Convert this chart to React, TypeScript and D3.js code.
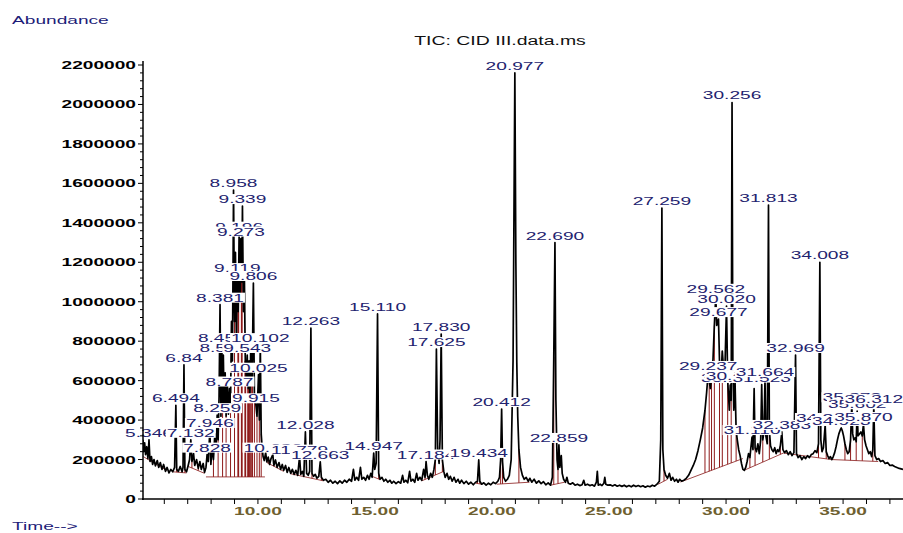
import React, { useEffect, useRef } from 'react';
import * as d3 from 'd3';

const W = 903;
const H = 533;

// TIC trace: [retention time (min), abundance (thousands)]
const trace: [number, number][] = [
  [5.09, 300], [5.12, 240], [5.16, 285], [5.2, 225], [5.25, 265], [5.3, 205], [5.346, 300], [5.39, 190],
  [5.45, 215], [5.5, 175], [5.56, 200], [5.62, 168], [5.7, 195], [5.76, 160], [5.83, 185], [5.9, 150],
  [5.97, 175], [6.05, 140], [6.12, 160], [6.2, 132], [6.28, 150], [6.36, 138], [6.44, 160], [6.494, 475],
  [6.53, 150], [6.6, 140], [6.68, 165], [6.76, 138], [6.8, 160], [6.84, 680], [6.88, 150], [6.95, 138],
  [7.02, 170], [7.08, 200], [7.132, 300], [7.18, 190], [7.25, 230], [7.3, 170], [7.38, 200], [7.45, 155],
  [7.52, 190], [7.58, 150], [7.66, 180], [7.72, 135], [7.78, 160], [7.828, 225], [7.88, 190], [7.946, 350],
  [7.99, 175], [8.04, 260], [8.1, 200], [8.16, 330], [8.21, 250], [8.259, 425], [8.3, 300], [8.34, 520],
  [8.381, 985], [8.42, 420], [8.458, 780], [8.49, 450], [8.522, 730], [8.56, 440], [8.6, 640], [8.64, 420],
  [8.69, 600], [8.74, 430], [8.787, 560], [8.83, 480], [8.87, 900], [8.91, 700], [8.958, 1566], [9.0, 900],
  [9.04, 1250], [9.08, 800], [9.119, 1135], [9.16, 950], [9.196, 1345], [9.24, 1000], [9.273, 1320],
  [9.31, 1100], [9.339, 1485], [9.38, 950], [9.42, 1150], [9.46, 700], [9.5, 620], [9.543, 730], [9.58, 560],
  [9.62, 700], [9.66, 520], [9.7, 820], [9.75, 600], [9.806, 1095], [9.85, 520], [9.915, 475], [9.96, 420],
  [10.025, 630], [10.06, 400], [10.102, 780], [10.14, 330], [10.18, 260], [10.22, 215], [10.27, 195],
  [10.33, 235], [10.38, 188], [10.44, 212], [10.5, 175], [10.56, 205], [10.636, 225], [10.68, 170],
  [10.75, 198], [10.82, 160], [10.9, 185], [10.97, 150], [11.04, 175], [11.1, 145], [11.18, 170],
  [11.25, 135], [11.32, 160], [11.4, 130], [11.47, 150], [11.55, 125], [11.62, 145], [11.7, 120],
  [11.779, 215], [11.83, 125], [11.9, 140], [11.96, 115], [12.028, 340], [12.08, 130], [12.15, 120],
  [12.21, 140], [12.263, 866], [12.31, 130], [12.38, 115], [12.45, 125], [12.52, 105], [12.6, 115],
  [12.663, 188], [12.71, 110], [12.8, 95], [12.9, 100], [13.0, 85], [13.1, 95], [13.2, 80], [13.3, 90],
  [13.4, 78], [13.5, 92], [13.6, 80], [13.7, 95], [13.8, 85], [13.9, 100], [14.0, 90], [14.08, 150],
  [14.14, 95], [14.22, 110], [14.3, 95], [14.38, 160], [14.44, 100], [14.52, 110], [14.6, 95], [14.68, 120],
  [14.75, 100], [14.82, 130], [14.88, 110], [14.947, 233], [14.99, 150], [15.05, 180], [15.11, 938],
  [15.16, 130], [15.22, 100], [15.3, 110], [15.38, 90], [15.46, 100], [15.55, 85], [15.64, 95], [15.72, 80],
  [15.8, 90], [15.9, 78], [16.0, 88], [16.1, 80], [16.18, 120], [16.24, 85], [16.32, 95], [16.4, 82],
  [16.48, 140], [16.54, 90], [16.62, 100], [16.7, 85], [16.78, 130], [16.84, 95], [16.92, 110], [17.0, 95],
  [17.08, 150], [17.14, 110], [17.184, 190], [17.24, 120], [17.3, 100], [17.38, 130], [17.45, 110],
  [17.52, 150], [17.58, 200], [17.625, 760], [17.68, 250], [17.74, 180], [17.78, 300], [17.83, 836],
  [17.88, 200], [17.94, 140], [18.0, 110], [18.08, 130], [18.15, 100], [18.22, 115], [18.3, 90],
  [18.38, 110], [18.46, 85], [18.55, 100], [18.62, 80], [18.7, 95], [18.8, 78], [18.9, 90], [19.0, 75],
  [19.1, 85], [19.2, 72], [19.3, 85], [19.38, 90], [19.434, 198], [19.48, 90], [19.56, 75], [19.65, 82],
  [19.75, 70], [19.85, 80], [19.95, 72], [20.05, 85], [20.15, 78], [20.25, 90], [20.32, 110], [20.37, 200],
  [20.412, 456], [20.45, 190], [20.5, 110], [20.58, 90], [20.66, 100], [20.74, 120], [20.82, 200],
  [20.9, 700], [20.977, 2160], [21.02, 1200], [21.06, 690], [21.1, 420], [21.15, 250], [21.22, 160],
  [21.3, 120], [21.38, 100], [21.46, 110], [21.55, 90], [21.62, 105], [21.7, 85], [21.8, 100], [21.9, 80],
  [22.0, 92], [22.1, 78], [22.2, 88], [22.3, 72], [22.4, 82], [22.5, 70], [22.58, 110], [22.64, 720],
  [22.69, 1300], [22.73, 500], [22.78, 200], [22.82, 150], [22.859, 274], [22.9, 160], [22.96, 220],
  [23.0, 130], [23.06, 100], [23.14, 85], [23.2, 110], [23.26, 80], [23.35, 75], [23.45, 82], [23.55, 70],
  [23.65, 75], [23.75, 68], [23.85, 72], [23.92, 95], [23.98, 70], [24.08, 75], [24.18, 68], [24.28, 72],
  [24.38, 65], [24.46, 85], [24.5, 140], [24.54, 70], [24.62, 75], [24.7, 68], [24.78, 80], [24.82, 110],
  [24.86, 75], [24.95, 70], [25.05, 72], [25.15, 66], [25.25, 72], [25.35, 65], [25.45, 70], [25.55, 64],
  [25.65, 70], [25.75, 62], [25.85, 68], [25.95, 62], [26.05, 70], [26.15, 63], [26.25, 68], [26.35, 62],
  [26.45, 67], [26.55, 60], [26.65, 66], [26.75, 62], [26.85, 70], [26.95, 65], [27.05, 75], [27.15, 90],
  [27.21, 300], [27.259, 1475], [27.3, 250], [27.35, 150], [27.42, 120], [27.5, 105], [27.58, 130],
  [27.65, 95], [27.72, 110], [27.8, 90], [27.88, 100], [27.95, 85], [28.02, 100], [28.1, 90], [28.2, 95],
  [28.3, 105], [28.4, 120], [28.5, 145], [28.6, 170], [28.7, 200], [28.8, 245], [28.9, 300], [29.0, 360],
  [29.1, 450], [29.17, 540], [29.237, 639], [29.28, 600], [29.33, 560], [29.38, 620], [29.44, 700],
  [29.5, 880], [29.562, 1030], [29.6, 880], [29.677, 912], [29.72, 700], [29.78, 620], [29.84, 750],
  [29.9, 650], [29.96, 700], [30.02, 978], [30.07, 600], [30.14, 450], [30.179, 578], [30.22, 500],
  [30.256, 2010], [30.29, 700], [30.33, 450], [30.385, 590], [30.43, 350], [30.48, 300], [30.54, 250],
  [30.6, 220], [30.66, 180], [30.72, 150], [30.78, 145], [30.84, 160], [30.9, 190], [30.96, 230],
  [31.02, 210], [31.06, 260], [31.11, 314], [31.15, 250], [31.2, 560], [31.24, 260], [31.3, 240],
  [31.36, 280], [31.42, 230], [31.48, 300], [31.523, 580], [31.57, 300], [31.62, 340], [31.664, 608],
  [31.7, 320], [31.76, 280], [31.813, 1490], [31.85, 350], [31.9, 270], [31.96, 250], [32.02, 240],
  [32.08, 260], [32.14, 230], [32.2, 250], [32.26, 240], [32.32, 270], [32.383, 340], [32.43, 250],
  [32.5, 235], [32.58, 245], [32.66, 225], [32.74, 240], [32.82, 220], [32.9, 235], [32.969, 730],
  [33.01, 230], [33.08, 210], [33.16, 220], [33.24, 200], [33.32, 215], [33.4, 205], [33.48, 220],
  [33.56, 210], [33.64, 225], [33.72, 230], [33.8, 245], [33.88, 235], [33.95, 280], [34.008, 1200],
  [34.05, 300], [34.1, 240], [34.16, 260], [34.235, 375], [34.28, 240], [34.34, 220], [34.4, 205],
  [34.46, 215], [34.52, 200], [34.58, 215], [34.64, 235], [34.7, 265], [34.76, 300], [34.82, 330],
  [34.88, 350], [34.923, 360], [34.97, 345], [35.02, 320], [35.08, 280], [35.14, 250], [35.2, 230],
  [35.26, 240], [35.32, 300], [35.372, 480], [35.41, 330], [35.46, 300], [35.52, 310], [35.56, 290],
  [35.602, 445], [35.64, 320], [35.7, 330], [35.76, 340], [35.82, 320], [35.87, 380], [35.92, 300],
  [35.98, 270], [36.04, 250], [36.1, 230], [36.16, 240], [36.22, 215], [36.27, 250], [36.312, 470],
  [36.36, 220], [36.44, 200], [36.52, 205], [36.6, 190], [36.7, 195], [36.8, 180], [36.9, 185],
  [37.0, 170], [37.1, 172], [37.2, 165], [37.3, 160], [37.4, 155], [37.56, 150],
];

// labelled peaks (apex)
const peakTimes = [
  5.346, 6.494, 6.84, 7.132, 7.828, 7.946, 8.259, 8.381, 8.458, 8.522, 8.787, 8.958, 9.119, 9.196, 9.273,
  9.339, 9.543, 9.806, 9.915, 10.025, 10.102, 10.636, 11.779, 12.028, 12.263, 12.663, 14.947, 15.11,
  17.184, 17.625, 17.83, 19.434, 20.412, 20.977, 22.69, 22.859, 27.259, 29.237, 29.562, 29.677, 30.02,
  30.179, 30.256, 30.385, 31.11, 31.523, 31.664, 31.813, 32.383, 32.969, 34.008, 34.235, 34.923, 35.372,
  35.602, 35.87, 36.312,
];
const peakLabels = [
  '5.346', '6.494', '6.84', '7.132', '7.828', '7.946', '8.259', '8.381', '8.458', '8.522', '8.787', '8.958',
  '9.119', '9.196', '9.273', '9.339', '9.543', '9.806', '9.915', '10.025', '10.102', '10.636', '11.779',
  '12.028', '12.263', '12.663', '14.947', '15.110', '17.184', '17.625', '17.830', '19.434', '20.412',
  '20.977', '22.690', '22.859', '27.259', '29.237', '29.562', '29.677', '30.020', '30.179', '30.256',
  '30.385', '31.110', '31.523', '31.664', '31.813', '32.383', '32.969', '34.008', '34.235', '34.923',
  '35.372', '35.602', '35.870', '36.312',
];

// integration baselines: [t0, abundance0, t1, abundance1] (thousands)
const baselineSegments: [number, number, number, number][] = [
  [5.1, 215, 6.1, 145], [6.36, 138, 6.95, 132], [7.02, 165, 7.72, 130], [7.78, 112, 10.3, 112],
  [10.38, 185, 11.1, 140], [11.4, 128, 12.8, 92], [14.82, 118, 15.22, 98], [17.0, 92, 17.94, 140],
  [19.3, 80, 19.56, 75], [20.2, 75, 21.6, 85], [22.5, 70, 23.1, 85], [27.1, 75, 27.5, 100],
  [28.05, 86, 30.72, 205], [30.8, 147, 32.45, 233], [32.45, 233, 34.5, 200], [34.5, 200, 36.5, 190],
];

// peak start / end marks dropped to the baseline
const dropTimes = [
  5.39, 5.62, 6.53, 6.88, 7.18, 7.45,
  8.1, 8.3, 8.49, 8.64, 8.83, 9.0, 9.16, 9.31, 9.46, 9.58, 9.66, 9.75, 9.85, 9.96, 10.06, 10.14,
  10.44, 10.68, 11.7, 11.96, 12.31, 12.71, 14.88, 15.16, 17.14, 17.58, 17.88,
  19.38, 19.48, 20.37, 20.45, 21.15, 22.64, 22.82, 27.35,
  29.1, 29.28, 29.38, 29.5, 29.72, 29.84, 30.07, 30.22, 30.43,
  31.02, 31.24, 31.57, 31.85, 32.32, 33.95, 34.28, 35.08, 35.32, 35.56, 35.82, 36.27,
];

const yTickLabels = ['0', '200000', '400000', '600000', '800000', '1000000', '1200000', '1400000',
  '1600000', '1800000', '2000000', '2200000'];
const timeTicks = [10, 15, 20, 25, 30, 35];

const FONT = "'Liberation Sans', Arial, sans-serif";
const SX = 1.74; // the original is stretched horizontally
const NAVY = '#22226e';
const RED = '#8e1a1a';

const Chromatogram = () => {
  const svgRef = useRef<SVGSVGElement>(null);

  useEffect(() => {
    const svg = d3.select(svgRef.current);
    svg.selectAll('*').remove();

    const K = 1000;
    const x = d3.scaleLinear().domain([5.09, 37.56]).range([143, 903]);
    const y = d3.scaleLinear().domain([0, 2200000]).range([499, 65]);

    const stretched = (g, px, py, str, anchor = 'start') =>
      g.append('text')
        .attr('transform', `translate(${px},${py}) scale(${SX},1)`)
        .attr('text-anchor', anchor)
        .style('font-family', FONT)
        .style('font-size', '11px')
        .text(str);

    svg.append('defs').append('clipPath').attr('id', 'plot')
      .append('rect').attr('x', 143).attr('y', 40).attr('width', W - 143).attr('height', 460);

    const plot = svg.append('g').attr('clip-path', 'url(#plot)');

    const traceAt = (t: number) => {
      const p = trace.find(d => Math.abs(d[0] - t) < 1e-6);
      return p ? p[1] : 0;
    };

    // integration baselines
    plot.selectAll('.base')
      .data(baselineSegments)
      .enter().append('line')
      .attr('x1', d => x(d[0])).attr('y1', d => y(d[1] * K))
      .attr('x2', d => x(d[2])).attr('y2', d => y(d[3] * K))
      .attr('stroke', '#a04848').attr('stroke-width', 1);

    // drop lines
    const drops = dropTimes.map(t => {
      const seg = baselineSegments.find(s => t >= s[0] && t <= s[2]);
      if (!seg) return null;
      const base = seg[1] + (seg[3] - seg[1]) * (t - seg[0]) / (seg[2] - seg[0]);
      return { t, base, top: traceAt(t) };
    }).filter(d => d && d.top > d.base);

    plot.selectAll('.drop')
      .data(drops)
      .enter().append('line')
      .attr('x1', d => x(d.t)).attr('x2', d => x(d.t))
      .attr('y1', d => y(d.base * K)).attr('y2', d => y(d.top * K))
      .attr('stroke', RED)
      .attr('stroke-width', d => (d.t > 9.1 && d.t < 9.8 ? 1.8 : 1));

    // TIC trace
    const line = d3.line<[number, number]>()
      .x(d => x(d[0]))
      .y(d => y(d[1] * K));

    plot.append('path')
      .datum(trace)
      .attr('d', line)
      .attr('fill', 'none')
      .attr('stroke', '#000')
      .attr('stroke-width', 1.7)
      .attr('stroke-linejoin', 'round');

    // peak labels with white boxes
    peakTimes.forEach((t, i) => {
      const g = svg.append('g');
      const px = x(t);
      const py = y(traceAt(t) * K) - 3;
      const rect = g.append('rect').attr('fill', '#fff');
      const txt = stretched(g, px, py, peakLabels[i], 'middle').attr('fill', NAVY);
      const w = (txt.node() as SVGTextElement).getComputedTextLength() * SX;
      rect.attr('x', px - w / 2 - 1).attr('y', py - 9).attr('width', w + 2).attr('height', 10);
    });

    // axes
    svg.append('line').attr('x1', 143).attr('x2', 143).attr('y1', 61).attr('y2', 500)
      .attr('stroke', '#000').attr('stroke-width', 1.5);
    svg.append('line').attr('x1', 142).attr('x2', W).attr('y1', 499).attr('y2', 499)
      .attr('stroke', '#000').attr('stroke-width', 1.5);

    const minorY = d3.range(0, 2200001, 40000);
    svg.selectAll('.ymin')
      .data(minorY)
      .enter().append('line')
      .attr('x1', d => (d % 200000 === 0 ? 138 : 140)).attr('x2', 143)
      .attr('y1', d => y(d)).attr('y2', d => y(d))
      .attr('stroke', '#000').attr('stroke-width', 1);

    yTickLabels.forEach(lbl => {
      stretched(svg, 136, y(+lbl) + 4, lbl, 'end')
        .attr('fill', '#000').style('font-weight', 'bold');
    });

    const minorX = d3.range(6, 38);
    svg.selectAll('.xmin')
      .data(minorX)
      .enter().append('line')
      .attr('x1', d => x(d)).attr('x2', d => x(d))
      .attr('y1', 499).attr('y2', 504)
      .attr('stroke', '#000').attr('stroke-width', 1);

    timeTicks.forEach(t => {
      stretched(svg, x(t), 515, t.toFixed(2), 'middle')
        .attr('fill', '#6e6030').style('font-weight', 'bold');
    });

    // titles
    stretched(svg, 12, 24, 'Abundance').attr('fill', '#1c1c78');
    stretched(svg, 12, 530, 'Time-->').attr('fill', '#1c1c78');
    svg.append('text')
      .attr('transform', `translate(500,45) scale(1.62,1)`)
      .attr('text-anchor', 'middle')
      .style('font-family', FONT)
      .style('font-size', '12px')
      .attr('fill', '#111')
      .text('TIC: CID III.data.ms');
  }, []);

  return (
    <svg
      ref={svgRef}
      width={W}
      height={H}
      style={{ position: 'absolute', left: 0, top: 0, background: '#fff' }}
    />
  );
};

export default function App() {
  return <Chromatogram />;
}
